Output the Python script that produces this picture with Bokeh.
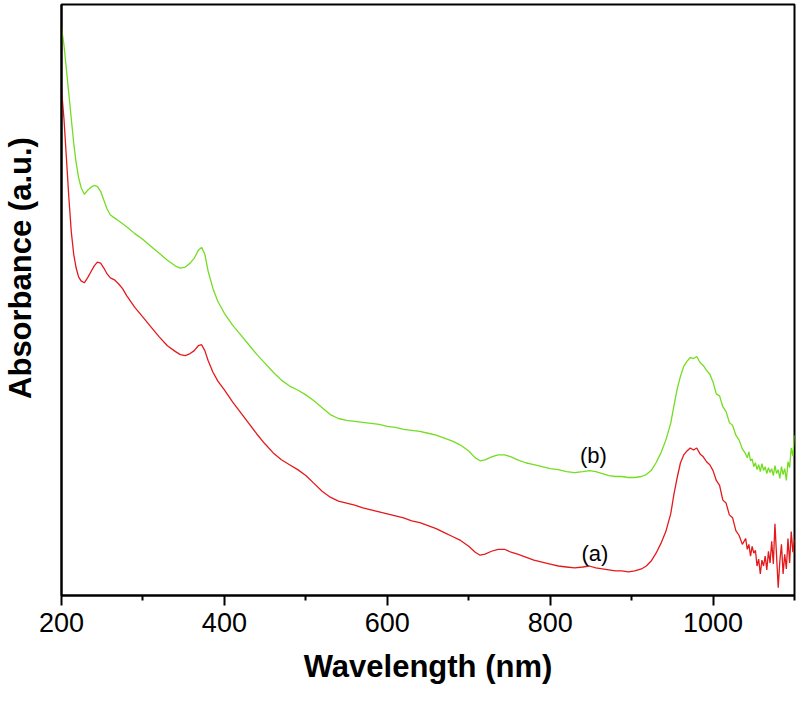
from bokeh.plotting import figure
from bokeh.models import Range1d, FixedTicker, Label
from bokeh.embed import file_html
from bokeh.resources import INLINE

wavelength = [200, 203, 206, 209, 212, 215, 218, 221, 224, 228, 232, 236, 240, 244, 248, 252, 256, 260, 265, 270,
              275, 280, 290, 300, 310, 320, 330, 340, 346, 352, 358, 363, 368, 372, 376, 380, 386, 392, 400, 410,
              420, 430, 440, 450, 460, 470, 480, 490, 500, 510, 520, 530, 540, 550, 560, 570, 580, 590, 600, 610,
              620, 630, 640, 650, 660, 670, 680, 690, 700, 708, 714, 720, 728, 736, 744, 752, 760, 770, 780, 790,
              800, 810, 820, 830, 840, 848, 856, 864, 872, 880, 888, 896, 904, 912, 918, 924, 930, 936, 942, 948,
              952, 956, 960, 964, 968, 972, 976, 980, 984, 988, 992, 996, 1000, 1004, 1008, 1012, 1016, 1020, 1024, 1028,
              1032, 1036, 1040, 1042, 1044, 1046, 1048, 1050, 1052, 1054, 1056, 1058, 1060, 1062, 1064, 1066, 1068, 1070,
              1072, 1074, 1076, 1078, 1080, 1082, 1084, 1086, 1088, 1090, 1092, 1094, 1096, 1098, 1100]

abs_b = [5.78, 5.60, 5.35, 5.10, 4.85, 4.60, 4.40, 4.25, 4.15, 4.08, 4.12, 4.15, 4.17, 4.16, 4.11, 4.02, 3.93, 3.87, 3.84, 3.81,
         3.78, 3.75, 3.68, 3.62, 3.55, 3.48, 3.41, 3.35, 3.33, 3.34, 3.38, 3.43, 3.51, 3.54, 3.47, 3.30, 3.12, 2.99, 2.87, 2.75,
         2.65, 2.55, 2.45, 2.36, 2.27, 2.19, 2.13, 2.09, 2.04, 1.98, 1.91, 1.84, 1.80, 1.78, 1.77, 1.76, 1.75, 1.74, 1.72, 1.71,
         1.69, 1.68, 1.67, 1.65, 1.63, 1.60, 1.57, 1.53, 1.47, 1.40, 1.37, 1.38, 1.41, 1.43, 1.43, 1.41, 1.38, 1.35, 1.33, 1.31,
         1.29, 1.28, 1.26, 1.25, 1.26, 1.27, 1.26, 1.24, 1.22, 1.21, 1.21, 1.20, 1.20, 1.21, 1.23, 1.27, 1.35, 1.45, 1.58, 1.75,
         1.93, 2.10, 2.23, 2.33, 2.38, 2.42, 2.41, 2.43, 2.37, 2.34, 2.29, 2.25, 2.17, 2.05, 2.03, 1.92, 1.87, 1.76, 1.73, 1.63,
         1.58, 1.49, 1.44, 1.40, 1.46, 1.37, 1.39, 1.31, 1.35, 1.28, 1.33, 1.26, 1.34, 1.27, 1.31, 1.24, 1.30, 1.25,
         1.29, 1.22, 1.32, 1.24, 1.28, 1.19, 1.31, 1.23, 1.29, 1.17, 1.36, 1.30, 1.50, 1.42, 1.63]

abs_a = [5.15, 4.85, 4.45, 4.05, 3.70, 3.47, 3.33, 3.24, 3.20, 3.18, 3.23, 3.29, 3.35, 3.39, 3.38, 3.33, 3.27, 3.23, 3.21, 3.17,
         3.12, 3.05, 2.93, 2.83, 2.73, 2.63, 2.54, 2.48, 2.45, 2.44, 2.46, 2.49, 2.54, 2.55, 2.49, 2.39, 2.27, 2.18, 2.09, 1.97,
         1.86, 1.75, 1.64, 1.54, 1.45, 1.38, 1.33, 1.28, 1.22, 1.14, 1.06, 1.00, 0.96, 0.94, 0.92, 0.89, 0.87, 0.85, 0.83, 0.81,
         0.79, 0.76, 0.74, 0.71, 0.68, 0.64, 0.60, 0.56, 0.50, 0.44, 0.41, 0.42, 0.45, 0.47, 0.47, 0.44, 0.42, 0.39, 0.36, 0.34,
         0.32, 0.30, 0.29, 0.28, 0.29, 0.30, 0.28, 0.27, 0.26, 0.25, 0.25, 0.24, 0.25, 0.27, 0.30, 0.35, 0.43, 0.53, 0.65, 0.83,
         1.03, 1.20, 1.35, 1.43, 1.47, 1.50, 1.48, 1.50, 1.44, 1.41, 1.36, 1.33, 1.27, 1.17, 1.12, 0.97, 0.94, 0.82, 0.79, 0.66,
         0.61, 0.52, 0.58, 0.47, 0.52, 0.40, 0.50, 0.43, 0.46, 0.30, 0.37, 0.22, 0.36, 0.30, 0.40, 0.26, 0.45, 0.33,
         0.55, 0.32, 0.73, 0.40, 0.08, 0.35, 0.52, 0.22, 0.42, 0.27, 0.58, 0.33, 0.65, 0.44, 0.57]

x_ticks = [200, 400, 600, 800, 1000]
x_minor_ticks = [300, 500, 700, 900, 1100]
series_labels = ["(a)", "(b)"]
label_pos_x = [855, 853]
label_pos_y = [0.43, 1.42]
y_title = "Absorbance (a.u.)"
y_title_at = 3.33

FONT = "Liberation Sans"

p = figure(width=796, height=688, output_backend="svg", toolbar_location=None,
           x_range=Range1d(200, 1100), y_range=Range1d(0, 6.01),
           min_border_left=60, min_border_right=2, min_border_top=4, min_border_bottom=93)
p.grid.visible = False
p.outline_line_color = "black"
p.outline_line_width = 2
p.background_fill_color = "white"
p.border_fill_color = "white"

xa = p.xaxis[0]
xa.ticker = FixedTicker(ticks=x_ticks, minor_ticks=x_minor_ticks)
xa.axis_line_width = 2
xa.axis_line_color = "black"
xa.major_tick_line_width = 2
xa.minor_tick_line_width = 2
xa.major_tick_out = 10
xa.major_tick_in = 0
xa.minor_tick_out = 5
xa.minor_tick_in = 0
xa.major_label_text_font = FONT
xa.major_label_text_font_size = "27px"
xa.major_label_text_color = "black"
xa.major_label_standoff = 7
xa.axis_label = "Wavelength (nm)"
xa.axis_label_text_font = FONT
xa.axis_label_text_font_style = "bold"
xa.axis_label_text_font_size = "31px"
xa.axis_label_text_color = "black"
xa.axis_label_standoff = 14

# y axis: no numeric ticks; its single label carries the axis title
ya = p.yaxis[0]
ya.ticker = FixedTicker(ticks=[y_title_at], minor_ticks=[])
ya.major_label_overrides = {y_title_at: y_title}
ya.major_label_orientation = "vertical"
ya.axis_line_width = 2
ya.axis_line_color = "black"
ya.major_tick_line_color = None
ya.minor_tick_line_color = None
ya.major_tick_out = 0
ya.major_tick_in = 0
ya.minor_tick_out = 0
ya.minor_tick_in = 0
ya.major_label_text_font = FONT
ya.major_label_text_font_style = "bold"
ya.major_label_text_font_size = "31px"
ya.major_label_text_color = "black"
ya.major_label_standoff = 23

p.line(wavelength, abs_b, line_color="#74DD22", line_width=1.3)
p.line(wavelength, abs_a, line_color="#E31A1C", line_width=1.3)

for t, lx, ly in zip(series_labels, label_pos_x, label_pos_y):
    p.add_layout(Label(x=lx, y=ly, text=t, text_font=FONT, text_font_size="22px",
                       text_align="center", text_baseline="middle", text_color="black"))

open("out.html", "w").write(file_html(p, INLINE))
